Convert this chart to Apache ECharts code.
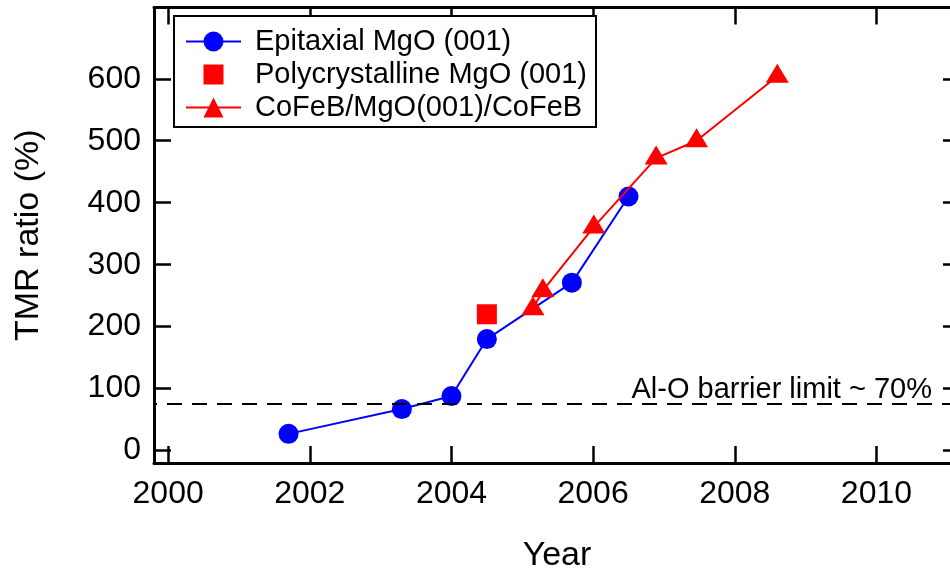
<!DOCTYPE html>
<html>
<head>
<meta charset="utf-8">
<title>TMR ratio vs. year</title>
<script src="https://cdn.jsdelivr.net/npm/echarts@6/dist/echarts.min.js"></script>
<style>
  html, body { margin: 0; padding: 0; background: #ffffff; }
  #chart { width: 950px; height: 572px; }
</style>
</head>
<body>
<div id="chart"></div>
<script>
// Epitaxial MgO(001) barriers
const epiYear = [2001.70, 2003.30, 2004.00, 2004.50, 2005.70, 2006.50];
const epiTMR  = [27, 67, 88, 180, 271, 410];

// Polycrystalline (textured) MgO(001) barrier
const polyYear = [2004.50];
const polyTMR  = [220];

// CoFeB/MgO(001)/CoFeB junctions
const cfbYear = [2005.15, 2005.29, 2006.01, 2006.89, 2007.46, 2008.60];
const cfbTMR  = [229, 258, 361, 472, 500, 604];

// Reference level of amorphous Al-O barriers
const alOLimit = 75;
const alOText = 'Al-O barrier limit ~ 70%';

// Axis ranges and tick values
const xRange = [1999.8, 2011.18];
const yRange = [-20, 715];
const xTicks = [2000, 2002, 2004, 2006, 2008, 2010];
const yTicks = [0, 100, 200, 300, 400, 500, 600];

const seriesNames = ['Epitaxial MgO (001)', 'Polycrystalline MgO (001)', 'CoFeB/MgO(001)/CoFeB'];

const zip = (xs, ys) => xs.map((x, i) => [x, ys[i]]);

const FONT = '"Liberation Sans", Arial, sans-serif';
const BLUE = '#0000ff';
const RED = '#ff0000';
// 20px square centred in a 25px box, so the legend keeps it at marker size
const SQUARE_ICON = 'path://M0,0M25,25M2.5,2.5h20v20h-20z';

const frameLine = { show: true, onZero: false, lineStyle: { color: '#000', width: 3 } };
const innerTick = (vals) => ({
  show: true, inside: true, length: 17, customValues: vals,
  lineStyle: { color: '#000', width: 2.5 }
});

const chart = echarts.init(document.getElementById('chart'), null, { renderer: 'canvas' });

chart.setOption({
  animation: false,
  backgroundColor: '#ffffff',
  textStyle: { fontFamily: FONT, color: '#000' },
  grid: { left: 154, top: 7.5, width: 806, height: 455.5, containLabel: false, outerBoundsMode: 'none' },
  legend: {
    data: [
      { name: seriesNames[0] },
      { name: seriesNames[1], icon: SQUARE_ICON },
      { name: seriesNames[2] }
    ],
    orient: 'vertical',
    left: 174,
    top: 16,
    padding: [9, 9, 3, 11],
    itemWidth: 55,
    itemHeight: 25,
    itemGap: 0,
    borderColor: '#000',
    borderWidth: 2,
    backgroundColor: '#fff',
    selectedMode: false,
    textStyle: { fontFamily: FONT, fontSize: 29, color: '#000', lineHeight: 33, padding: [0, 0, 0, 9] }
  },
  xAxis: [
    {
      type: 'value', position: 'bottom',
      min: xRange[0], max: xRange[1],
      name: 'Year', nameLocation: 'middle', nameGap: 76,
      nameTextStyle: { fontFamily: FONT, fontSize: 34, color: '#000' },
      axisLine: frameLine,
      axisTick: innerTick(xTicks),
      axisLabel: {
        customValues: xTicks, margin: 15, fontFamily: FONT, fontSize: 32, color: '#000',
        formatter: (v) => String(Math.round(v))
      },
      splitLine: { show: false }
    },
    {
      type: 'value', position: 'top',
      min: xRange[0], max: xRange[1],
      axisLine: frameLine,
      axisTick: innerTick(xTicks),
      axisLabel: { show: false },
      splitLine: { show: false }
    }
  ],
  yAxis: [
    {
      type: 'value', position: 'left',
      min: yRange[0], max: yRange[1],
      name: 'TMR ratio (%)', nameLocation: 'middle', nameGap: 108,
      nameTextStyle: { fontFamily: FONT, fontSize: 34, color: '#000' },
      axisLine: frameLine,
      axisTick: innerTick(yTicks),
      axisLabel: { customValues: yTicks, margin: 13, fontFamily: FONT, fontSize: 32, color: '#000' },
      splitLine: { show: false }
    },
    {
      type: 'value', position: 'right',
      min: yRange[0], max: yRange[1],
      axisLine: frameLine,
      axisTick: innerTick(yTicks),
      axisLabel: { show: false },
      splitLine: { show: false }
    }
  ],
  series: [
    {
      name: seriesNames[0],
      type: 'line',
      data: zip(epiYear, epiTMR),
      symbol: 'circle',
      symbolSize: 20,
      itemStyle: { color: BLUE, opacity: 1 },
      lineStyle: { color: BLUE, width: 2 },
      z: 2
    },
    {
      name: seriesNames[1],
      type: 'scatter',
      data: zip(polyYear, polyTMR),
      symbol: 'rect',
      symbolSize: 20,
      itemStyle: { color: RED, opacity: 1 },
      z: 2
    },
    {
      name: seriesNames[2],
      type: 'line',
      data: zip(cfbYear, cfbTMR),
      symbol: 'triangle',
      symbolSize: [23, 19],
      symbolOffset: [0, -3],
      itemStyle: { color: RED, opacity: 1 },
      lineStyle: { color: RED, width: 2 },
      z: 3
    },
    {
      // dashed reference level, drawn above the markers
      name: 'alO',
      type: 'line',
      data: [],
      z: 5,
      silent: true,
      markLine: {
        silent: true,
        symbol: 'none',
        data: [{ yAxis: alOLimit }],
        lineStyle: { color: '#000', width: 2, type: [15, 10], dashOffset: 12 },
        label: {
          show: true,
          position: 'insideEndTop',
          formatter: alOText,
          distance: [28, 0],
          fontFamily: FONT,
          fontSize: 29,
          color: '#000'
        }
      }
    }
  ]
});
</script>
</body>
</html>
